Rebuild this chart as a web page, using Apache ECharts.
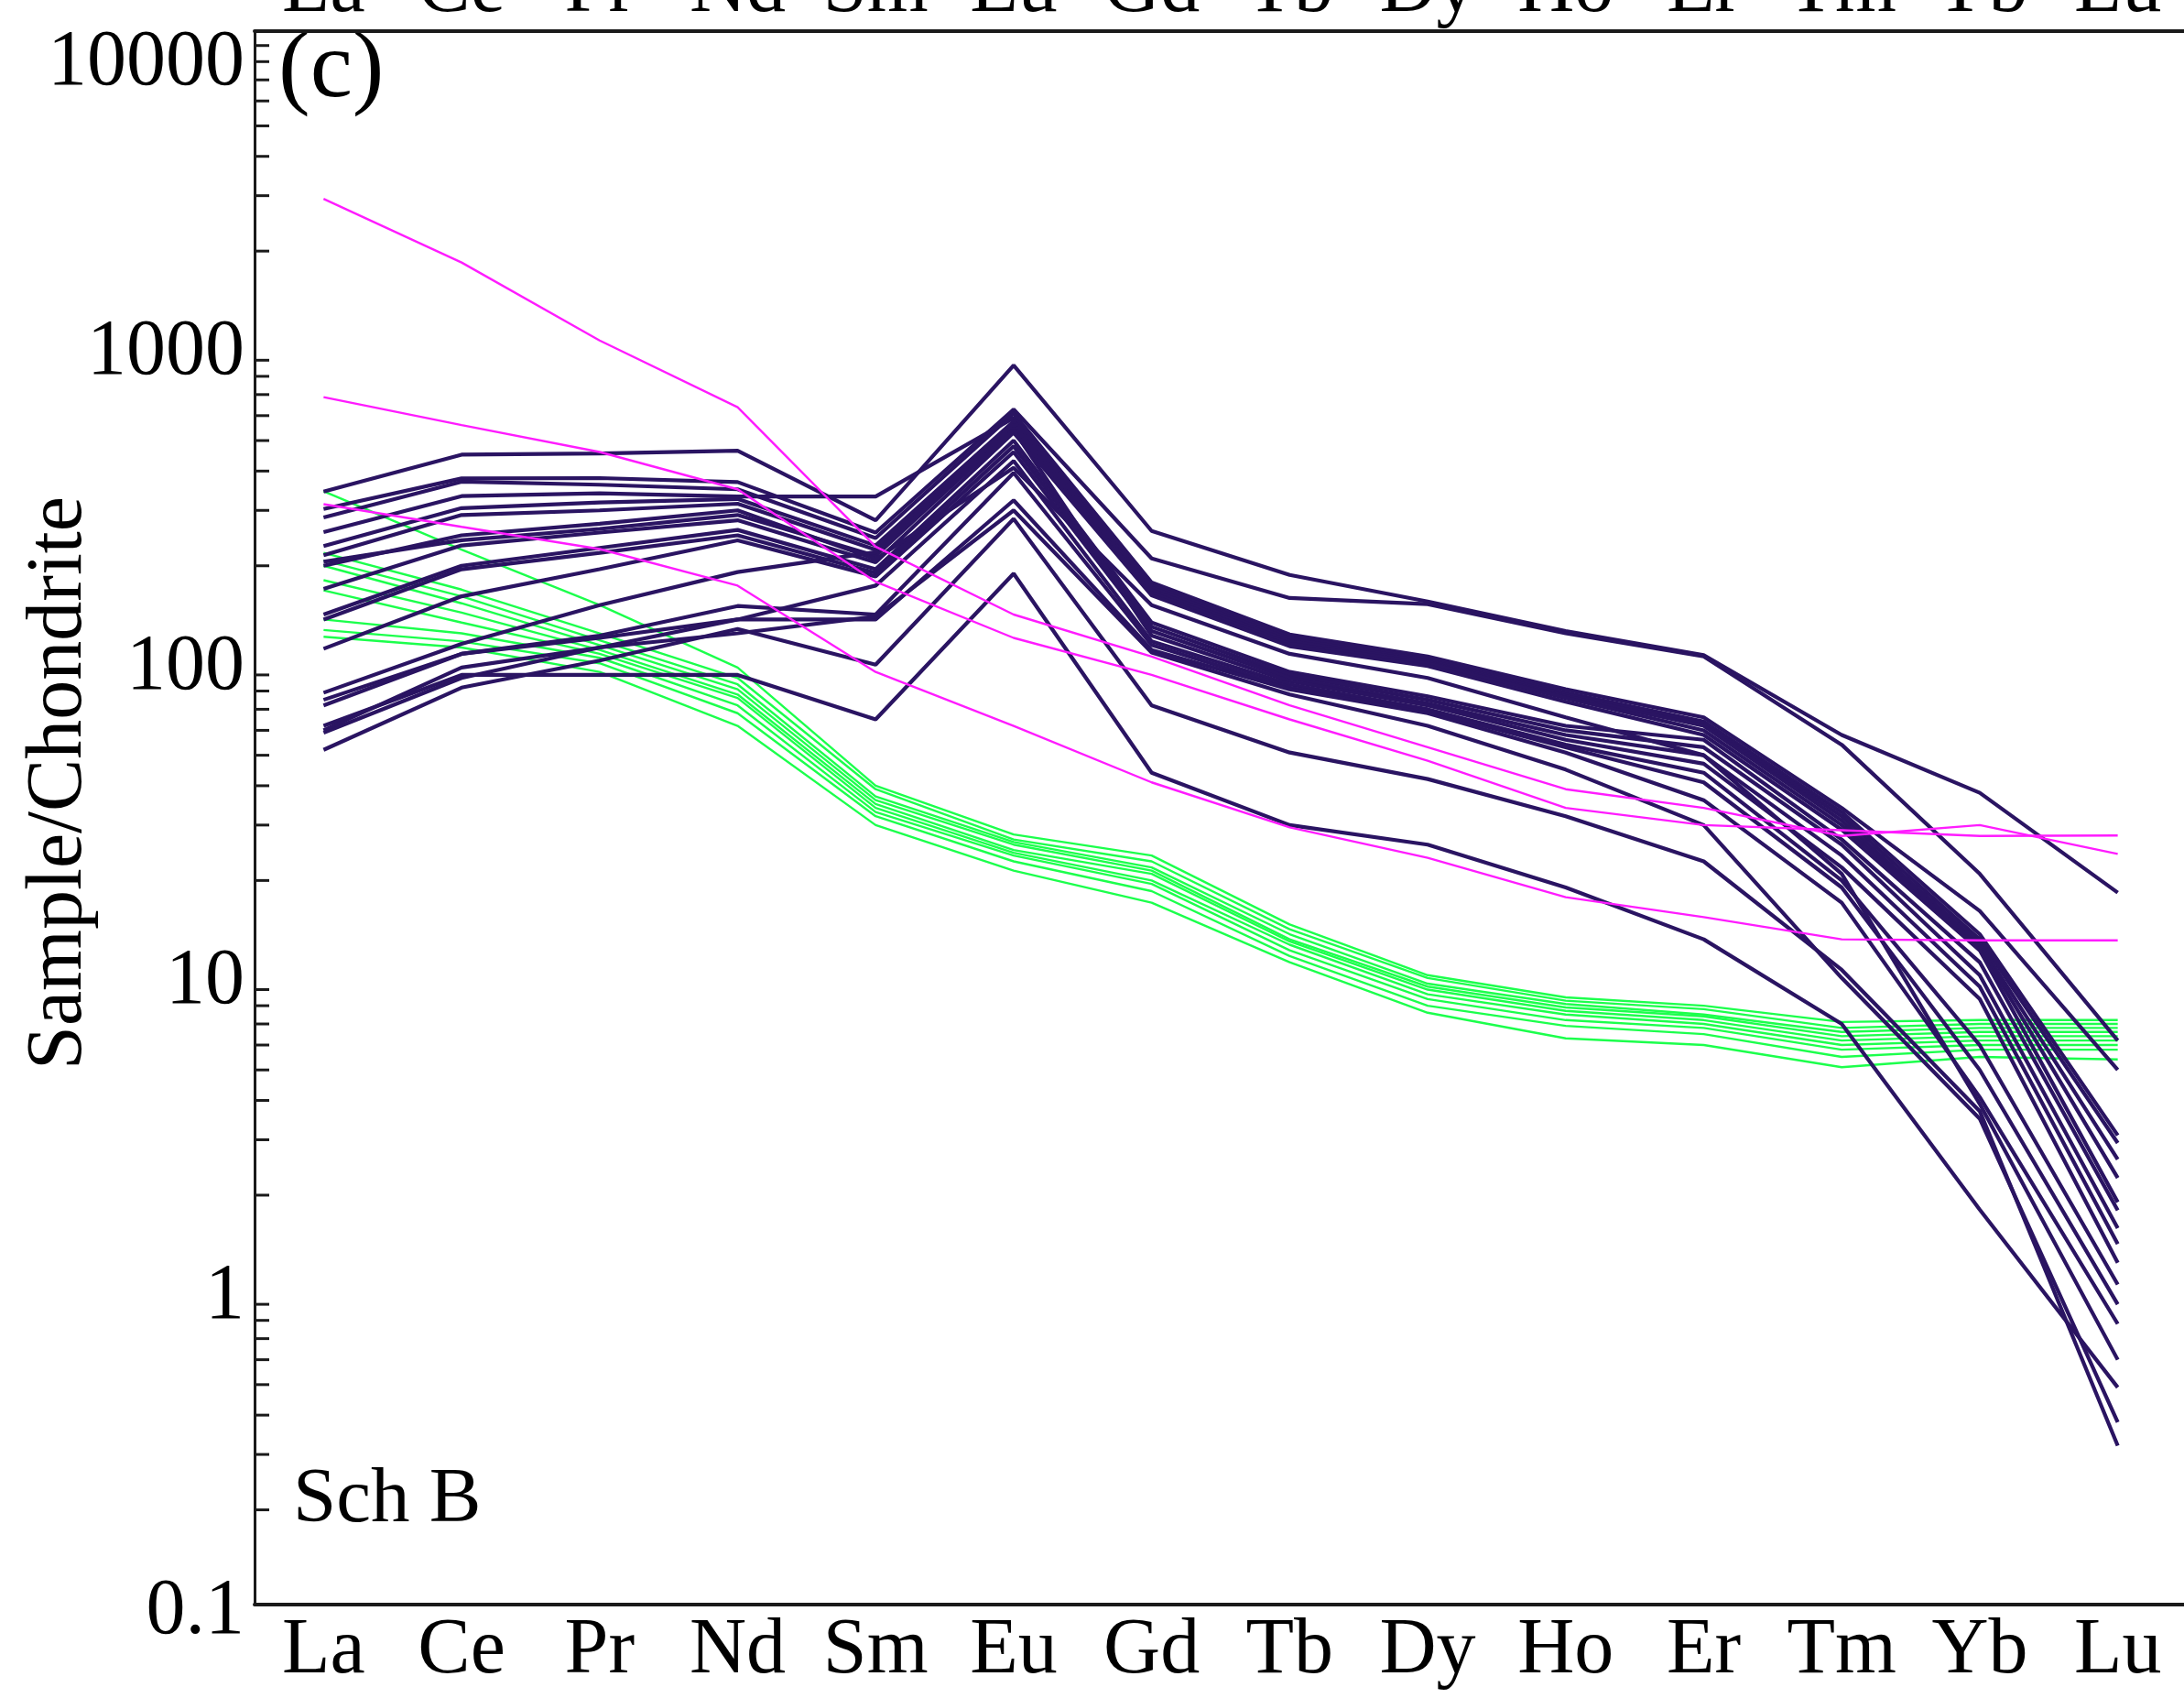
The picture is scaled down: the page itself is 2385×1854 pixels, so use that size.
<!DOCTYPE html>
<html>
<head>
<meta charset="utf-8">
<script src="https://cdn.jsdelivr.net/npm/echarts@6/dist/echarts.min.js"></script>
<style>
  html, body { margin: 0; padding: 0; background: #fff; }
  #chart { width: 2385px; height: 1854px; }
</style>
</head>
<body>
<div id="chart"></div>
<script>
// REE chondrite-normalised patterns, Sch B
const ree = ['La', 'Ce', 'Pr', 'Nd', 'Sm', 'Eu', 'Gd', 'Tb', 'Dy', 'Ho', 'Er', 'Tm', 'Yb', 'Lu'];
const yTickLabels = ['0.1', '1', '10', '100', '1000', '10000'];

// dark purple samples
const p01 = [344, 451, 455, 464, 279, 867, 258, 187, 154, 124, 104, 58, 38, 18.3];
const p02 = [303, 379, 380, 369, 255, 628, 211, 158, 151, 122, 103, 54, 21, 6.2];
const p03 = [285, 370, 362, 350, 245, 610, 177, 121, 103, 81, 66, 34, 16, 5.0];
const p04 = [256, 333, 340, 332, 332, 590, 173, 119, 101, 79, 64, 33, 13.5, 3.1];
const p05 = [231, 305, 318, 326, 232, 575, 170, 117, 100, 78, 63, 32, 13, 2.93];
const p06 = [216, 290, 300, 315, 225, 560, 167, 115, 99, 77, 62, 31, 12.6, 2.6];
const p07 = [206, 241, 262, 290, 215, 545, 164, 113, 98, 76, 60, 30, 12.3, 2.27];
const p08 = [169, 232, 255, 279, 205, 530, 161, 111, 96, 74, 58, 29, 12, 1.9];
const p09 = [140, 200, 228, 260, 195, 500, 132, 92, 77, 62, 56, 27, 11, 1.79];
const p10 = [135, 195, 220, 250, 190, 480, 128, 90, 75, 60, 53, 26, 10, 1.57];
const p11 = [109, 160, 195, 241, 185, 460, 124, 88, 73, 58, 50, 24, 9.2, 1.4];
const p12 = [79, 113, 150, 191, 221, 540, 120, 86, 72, 56, 47, 22, 8.4, 1.22];
const p13 = [75, 105, 118, 135, 173, 431, 115, 84, 70, 54, 44, 20, 6, 1.04];
const p14 = [72, 105, 120, 149, 140, 395, 112, 82, 69, 53, 41, 19, 5, 0.90];
const p15 = [59, 88, 110, 135, 135, 323, 108, 81, 68, 51, 36, 17, 4.1, 0.78];
const p16 = [52, 82, 100, 126, 97, 282, 72, 51, 42, 32, 23, 10.4, 3.7, 0.32];
const p17 = [62, 90, 90, 90, 65, 189, 44, 30, 26, 19, 13, 7, 1.8, 0.49];
const p18 = [60, 95, 110, 122, 138, 300, 106, 78, 62, 45, 30, 9.8, 3.5, 0.38];
const p19 = [200, 250, 272, 300, 210, 410, 150, 105, 88, 66, 50, 21, 3.9, 0.6];

// green samples
const g1 = [345, 225, 150, 95, 40, 28, 24, 14.5, 10, 8.5, 8, 7.1, 7.2, 7.2];
const g2 = [220, 168, 122, 88, 39, 27, 23, 14, 9.8, 8.3, 7.8, 6.8, 7.0, 7.0];
const g3 = [208, 160, 116, 84, 37, 26.5, 22, 13.5, 9.4, 8.1, 7.5, 6.6, 6.8, 6.8];
const g4 = [200, 152, 112, 81, 36, 26, 21.5, 13, 9.2, 7.9, 7.4, 6.4, 6.6, 6.6];
const g5 = [180, 142, 108, 78, 35, 25, 21, 12.8, 9.0, 7.7, 7.2, 6.2, 6.4, 6.4];
const g6 = [167, 132, 105, 76, 34, 24.5, 20, 12.5, 8.7, 7.5, 7.0, 6.0, 6.2, 6.2];
const g7 = [135, 122, 102, 72, 33, 24, 19.5, 12, 8.4, 7.2, 6.8, 5.8, 6.0, 6.0];
const g8 = [125, 115, 98, 68, 32, 23, 18.5, 11.5, 8.0, 6.9, 6.5, 5.5, 5.8, 5.8];
const g9 = [119, 110, 92, 62, 30, 21.5, 17, 11, 7.6, 6.3, 6.0, 5.1, 5.5, 5.4];

// magenta samples
const m1 = [2930, 1840, 1040, 638, 230, 140, 103, 72, 53, 39, 34, 27.7, 30, 24.3];
const m2 = [687, 560, 460, 350, 178, 118, 90, 65, 48, 34, 30, 28.9, 27.7, 27.8];
const m3 = [314, 266, 226, 173, 92, 62, 41, 29.5, 23.6, 17.7, 15.3, 13, 12.9, 12.9];

const purpleSet = [p01, p02, p03, p04, p05, p06, p07, p08, p09, p10, p11, p12, p13, p14, p15, p16, p17, p18, p19];
const greenSet = [g1, g2, g3, g4, g5, g6, g7, g8, g9];
const magentaSet = [m1, m2, m3];

const minorMult = [2, 3, 4, 5, 6, 7, 8, 9];
const decades = [0.1, 1, 10, 100, 1000];

const PURPLE = '#2a1462';
const GREEN = '#1cff4c';
const MAGENTA = '#ff1cff';
const AXIS = '#1a1a1a';
const FONT = 'Liberation Serif';

var chart = echarts.init(document.getElementById('chart'));

function lineSeries(arr, color, width, z) {
    return {
        type: 'line',
        data: arr,
        symbol: 'none',
        silent: true,
        z: z,
        lineStyle: { color: color, width: width },
        emphasis: { disabled: true }
    };
}

var minorTicks = [];
decades.forEach(function (d) {
    minorMult.forEach(function (m) { minorTicks.push([0, +(d * m).toPrecision(3)]); });
});

var series = [];
greenSet.forEach(function (a) { series.push(lineSeries(a, GREEN, 2.4, 2)); });
purpleSet.forEach(function (a) { series.push(lineSeries(a, PURPLE, 4.2, 3)); });
magentaSet.forEach(function (a) { series.push(lineSeries(a, MAGENTA, 2.4, 4)); });

// log minor ticks on the left axis
series.push({
    type: 'custom',
    silent: true,
    z: 5,
    data: minorTicks,
    renderItem: function (params, api) {
        var y = api.coord([0, api.value(1)])[1];
        var x0 = params.coordSys.x;
        return {
            type: 'line',
            shape: { x1: x0, y1: y, x2: x0 + 16, y2: y },
            style: { stroke: AXIS, lineWidth: 3 }
        };
    }
});

var option = {
    backgroundColor: '#ffffff',
    animation: false,
    grid: { left: 278, top: 34, width: 2110, height: 1718, containLabel: false, outerBoundsMode: 'none' },
    xAxis: [
        {
            type: 'category',
            data: ree,
            position: 'bottom',
            boundaryGap: true,
            axisLine: { lineStyle: { color: AXIS, width: 4 } },
            axisTick: { inside: true, length: 34, alignWithLabel: true, interval: 0, lineStyle: { color: AXIS, width: 2 } },
            axisLabel: { interval: 0, color: '#000', fontFamily: FONT, fontSize: 86, margin: 8 }
        },
        {
            type: 'category',
            data: ree,
            position: 'top',
            boundaryGap: true,
            axisLine: { lineStyle: { color: AXIS, width: 4 } },
            axisTick: { show: false },
            axisLabel: { interval: 0, color: '#000', fontFamily: FONT, fontSize: 86, margin: 2 }
        }
    ],
    yAxis: {
        type: 'log',
        logBase: 10,
        min: 0.1,
        max: 10000,
        name: 'Sample/Chondrite',
        nameLocation: 'middle',
        nameGap: 170,
        nameMoveOverlap: false,
        nameTextStyle: { color: '#000', fontFamily: FONT, fontSize: 86, padding: [0, 0, 0, 76] },
        axisLine: { show: true, lineStyle: { color: AXIS, width: 3 } },
        axisTick: { inside: true, length: 32, lineStyle: { color: AXIS, width: 3 } },
        splitLine: { show: false },
        axisLabel: {
            color: '#000',
            fontFamily: FONT,
            fontSize: 86,
            margin: 11,
            formatter: function (v) {
                var i = Math.round(Math.log10(v)) + 1;
                var s = yTickLabels[i];
                return i === yTickLabels.length - 1 ? '{t|' + s + '}' : '{n|' + s + '}';
            },
            rich: {
                t: { color: '#000', fontFamily: FONT, fontSize: 86, padding: [70, 0, 0, 0] },
                n: { color: '#000', fontFamily: FONT, fontSize: 86, padding: [16, 0, 0, 0] }
            }
        }
    },
    graphic: [
        { type: 'text', left: 304, top: 26, style: { text: '(c)', font: '104px "Liberation Serif"', fill: '#000' } },
        { type: 'text', left: 320, top: 1596, style: { text: 'Sch B', font: '85px "Liberation Serif"', fill: '#000' } }
    ],
    series: series
};

chart.setOption(option);
</script>
</body>
</html>
